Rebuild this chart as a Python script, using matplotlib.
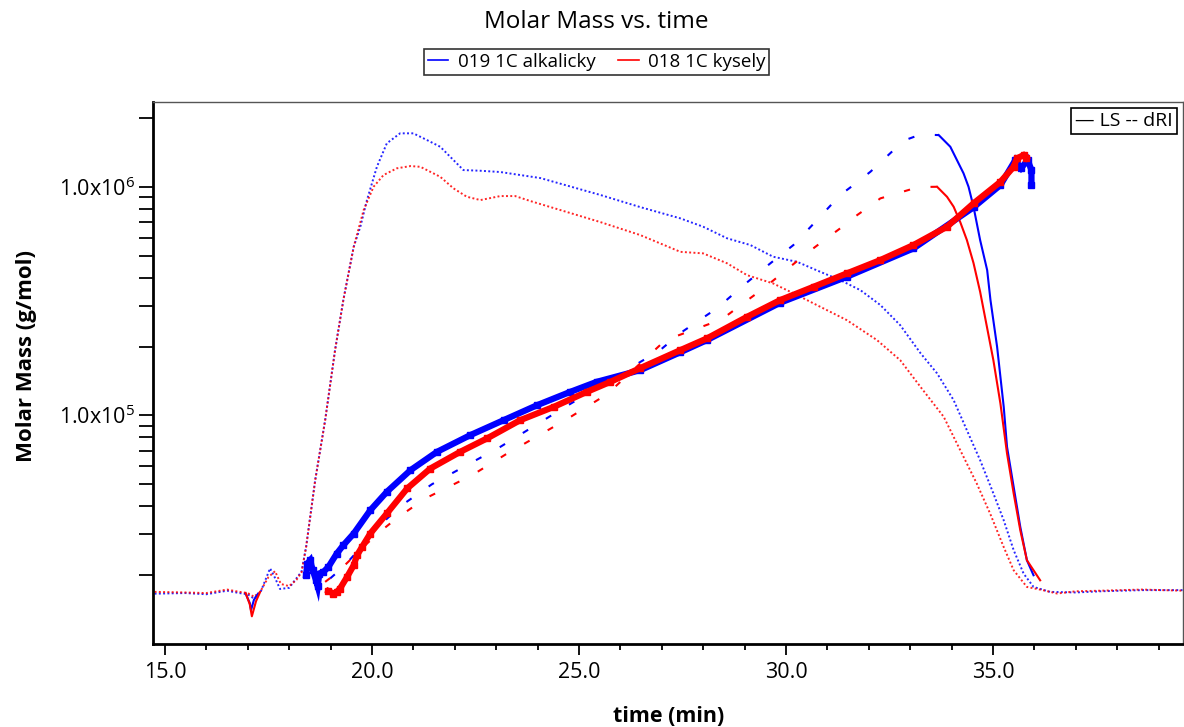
import matplotlib

matplotlib.use("Agg")
import matplotlib.pyplot as plt
from matplotlib.lines import Line2D
from matplotlib.ticker import FixedLocator, FixedFormatter, LogLocator, NullFormatter, MultipleLocator

plt.rcParams["font.family"] = ["Open Sans", "DejaVu Sans"]
plt.rcParams["mathtext.default"] = "regular"

BLUE = "#0000ff"
RED = "#ff0000"
NAMES = ["019 1C alkalicky", "018 1C kysely"]

# LS traces (dotted)
ls_blue_t = [14.75, 15.5, 16.0, 16.5, 16.8, 17.0, 17.15, 17.3, 17.54, 17.65, 17.78, 18.0, 18.18, 18.30,
             18.41, 18.63, 18.87, 19.11, 19.31, 19.56, 19.72, 19.88, 20.12, 20.36, 20.68, 21.00, 21.33,
             21.65, 21.97, 22.21, 22.62, 23.10, 24.07, 25.52, 26.48, 27.45, 28.00, 28.58, 29.14, 29.69,
             30.27, 30.83, 31.31, 31.80, 32.28, 32.76, 33.25, 33.65, 34.05, 34.37, 34.69, 35.01, 35.26,
             35.50, 35.74, 35.98, 36.38, 37.0, 37.6, 38.6, 39.6]
ls_blue_m = [16500, 16600, 16400, 17000, 16600, 16400, 15700, 16600, 21300, 19500, 17300, 17500, 19300, 20600,
             26400, 51900, 95000, 193000, 320000, 547000, 670000, 877000, 1227000, 1555000, 1720000, 1720000, 1607000,
             1502000, 1313000, 1187000, 1179000, 1164000, 1095000, 923000, 817000, 729000, 670000, 596000, 557000, 495000,
             470000, 425000, 391000, 353000, 304000, 248000, 187000, 152500, 116400, 85900, 63500, 45400, 34600,
             25600, 20200, 17660, 16800, 16700, 16900, 17100, 17100]

ls_red_t = [14.75, 15.5, 16.0, 16.5, 16.8, 17.0, 17.15, 17.3, 17.50, 17.66, 17.80, 18.0, 18.18, 18.30,
            18.41, 18.63, 18.87, 19.11, 19.31, 19.56, 19.80, 20.04, 20.28, 20.60, 20.93, 21.17, 21.65,
            21.97, 22.29, 22.62, 23.10, 23.46, 23.83, 24.55, 25.52, 26.48, 27.45, 28.00, 28.58, 29.06,
            29.69, 30.27, 30.83, 31.47, 32.20, 32.76, 33.25, 33.81, 34.21, 34.61, 34.93, 35.26, 35.50,
            35.82, 36.22, 36.55, 37.0, 37.6, 38.6, 39.6]
ls_red_m = [16800, 16700, 16600, 17200, 16800, 16600, 16000, 16800, 19500, 20700, 18200, 17800, 19000, 20500,
            26400, 51900, 95000, 193000, 320000, 547000, 793000, 1003000, 1129000, 1208000, 1236000, 1227000, 1109000,
            987000, 907000, 877000, 913000, 913000, 868000, 793000, 702000, 616000, 520000, 512000, 463000, 411000,
            378000, 336000, 298500, 261000, 213300, 174200, 133000, 98400, 70200, 50100, 37100, 26400, 20900,
            17660, 17070, 16520, 16900, 17000, 17200, 17000]

# dRI traces: rise (dashed) and fall (solid), plus the dip near 17 min
dri_blue_rise_t = [18.99, 19.31, 19.60, 20.04, 20.32, 20.72, 21.45, 23.10, 24.67, 26.96, 27.49, 28.33,
                   29.06, 29.62, 30.18, 30.75, 31.31, 31.63, 32.04, 32.60, 32.88, 33.25, 33.69]
dri_blue_rise_m = [19230, 21630, 24720, 30760, 34600, 40280, 49800, 72600, 108700, 192800, 231800, 293800,
                   382000, 462600, 556900, 716400, 922400, 1020000, 1167000, 1452000, 1607000, 1700000, 1690000]
dri_blue_fall_t = [33.69, 33.97, 34.13, 34.29, 34.41, 34.53, 34.69, 34.86, 34.94, 35.10, 35.26, 35.34,
                   35.50, 35.66, 35.82, 35.98]
dri_blue_fall_m = [1690000, 1502000, 1313000, 1148000, 1003000, 820000, 585700, 432500, 319500, 199400, 108700,
                   72600, 48470, 32360, 23120, 19870]

dri_red_rise_t = [18.87, 19.15, 19.88, 20.16, 20.59, 21.29, 22.42, 23.24, 24.67, 25.68, 27.09, 28.45,
                  29.02, 29.46, 30.35, 30.71, 31.31, 31.72, 32.12, 32.28, 33.20, 33.65]
dri_red_rise_m = [18580, 20320, 27350, 30480, 35240, 43150, 54580, 67450, 95060, 123600, 213300, 263000,
                  314300, 359700, 486700, 547100, 659000, 753700, 848200, 892000, 1000000, 1003000]
dri_red_fall_t = [33.65, 33.89, 34.05, 34.21, 34.37, 34.53, 34.69, 34.86, 35.01, 35.18, 35.34, 35.50,
                  35.66, 35.82, 35.98, 36.14]
dri_red_fall_m = [1003000, 906600, 820000, 702000, 585700, 464500, 347500, 240800, 174200, 112500, 67900,
                  45400, 31300, 23120, 20900, 18880]

dip_blue_t = [16.95, 17.05, 17.08, 17.15, 17.25]
dip_blue_m = [16500, 15000, 13960, 15500, 16500]
dip_red_t = [16.95, 17.05, 17.10, 17.20, 17.30]
dip_red_m = [16600, 14800, 13130, 15280, 16800]

# molar mass (square points)
mm_blue_t = [18.41, 18.44, 18.51, 18.57, 18.65, 18.69, 18.73, 18.83, 18.95, 19.15, 19.31, 19.56, 19.96,
             20.36, 20.93, 21.57, 22.37, 23.18, 23.99, 24.79, 25.43, 26.48, 27.45, 28.09, 29.86, 31.47,
             33.08, 34.53, 35.18, 35.54, 35.68, 35.84, 35.93, 35.93]
mm_blue_m = [19870, 22370, 23120, 20900, 18880, 17780, 20220, 20560, 21630, 24720, 26920, 30270, 38300,
             46120, 57360, 69030, 81660, 95060, 110600, 126500, 140000, 157500, 188800, 213300, 311100, 404300,
             538300, 814800, 1020000, 1313000, 1211000, 1313000, 1187000, 1020000]
mm_red_t = [18.95, 19.07, 19.15, 19.23, 19.40, 19.56, 19.64, 19.76, 19.96, 20.36, 20.85, 21.41, 22.13,
            22.78, 23.58, 24.39, 25.19, 25.76, 26.48, 27.45, 28.09, 29.06, 29.86, 30.67, 31.47, 32.28,
            33.08, 33.89, 34.53, 35.18, 35.50, 35.58, 35.74, 35.81]
mm_red_m = [16940, 16520, 16790, 17380, 19550, 21980, 24320, 26420, 30270, 37070, 47700, 58340, 69030,
            79070, 95060, 108700, 126500, 140000, 160800, 192800, 216900, 269800, 319500, 365600, 418200, 478600,
            556900, 669900, 848200, 1054000, 1227000, 1336000, 1381000, 1340000]

fig = plt.figure(figsize=(11.84, 7.27), dpi=100)
ax = fig.add_axes([0.1295, 0.1138, 0.8700, 0.7459])

for t, m, c in [(ls_blue_t, ls_blue_m, BLUE), (ls_red_t, ls_red_m, RED)]:
    ax.plot(t, m, color=c, lw=1.4, linestyle=(0, (1, 1.2)), alpha=0.85)

for rt, rm, ft, fm, dt, dm, c in [
    (dri_blue_rise_t, dri_blue_rise_m, dri_blue_fall_t, dri_blue_fall_m, dip_blue_t, dip_blue_m, BLUE),
    (dri_red_rise_t, dri_red_rise_m, dri_red_fall_t, dri_red_fall_m, dip_red_t, dip_red_m, RED),
]:
    ax.plot(rt, rm, color=c, lw=1.5, linestyle=(0, (3, 10)))
    ax.plot(ft, fm, color=c, lw=1.5)
    ax.plot(dt, dm, color=c, lw=1.5)

ax.plot(mm_blue_t, mm_blue_m, color=BLUE, lw=4.5, marker="s", ms=4.5, solid_joinstyle="miter")
ax.plot(mm_red_t, mm_red_m, color=RED, lw=4.5, marker="s", ms=4.5, solid_joinstyle="miter")

ax.set_yscale("log")
ax.set_xlim(14.72, 39.6)
ax.set_ylim(9900, 2.36e6)

ax.xaxis.set_major_locator(MultipleLocator(5))
ax.xaxis.set_minor_locator(MultipleLocator(1))
ax.xaxis.set_major_formatter(matplotlib.ticker.FormatStrFormatter("%.1f"))
ax.yaxis.set_major_locator(FixedLocator([1e5, 1e6]))
ax.yaxis.set_major_formatter(FixedFormatter(["1.0x10$^5$", "1.0x10$^6$"]))
ax.yaxis.set_minor_locator(LogLocator(base=10, subs=range(2, 10), numticks=20))
ax.yaxis.set_minor_formatter(NullFormatter())

ax.tick_params(axis="x", which="major", length=8, width=1.3, labelsize=15.5, pad=5)
ax.tick_params(axis="x", which="minor", length=4, width=1.3)
ax.tick_params(axis="y", which="both", length=10, width=1.3, labelsize=15.5, pad=3)
for sp in ax.spines.values():
    sp.set_linewidth(2)
for sp in ["top", "right"]:
    ax.spines[sp].set_linewidth(1)
    ax.spines[sp].set_color("#555555")

fig.text(0.504, 0.970, "Molar Mass vs. time", ha="center", va="center", fontsize=17.5)
fig.text(0.565, 0.014, "time (min)", ha="center", va="center", fontsize=15.5, fontweight="bold")
fig.text(0.022, 0.51, "Molar Mass (g/mol)", ha="center", va="center", rotation=90,
         fontsize=16, fontweight="bold")

handles = [Line2D([], [], color=BLUE, lw=1.2), Line2D([], [], color=RED, lw=1.2)]
leg = fig.legend(handles, NAMES, loc="center", bbox_to_anchor=(0.504, 0.915), ncol=2, fontsize=13.5,
                 frameon=True, fancybox=False, edgecolor="black", handlelength=1.1, handletextpad=0.5,
                 columnspacing=1.2, borderpad=0.2, borderaxespad=0)
leg.get_frame().set_linewidth(1.2)

ax.text(0.99, 0.982, "\u2014 LS -- dRI", transform=ax.transAxes, ha="right", va="top", fontsize=14,
        bbox=dict(boxstyle="square,pad=0.2", fc="white", ec="black", lw=1.2))

fig.savefig("out.png", dpi=100)
